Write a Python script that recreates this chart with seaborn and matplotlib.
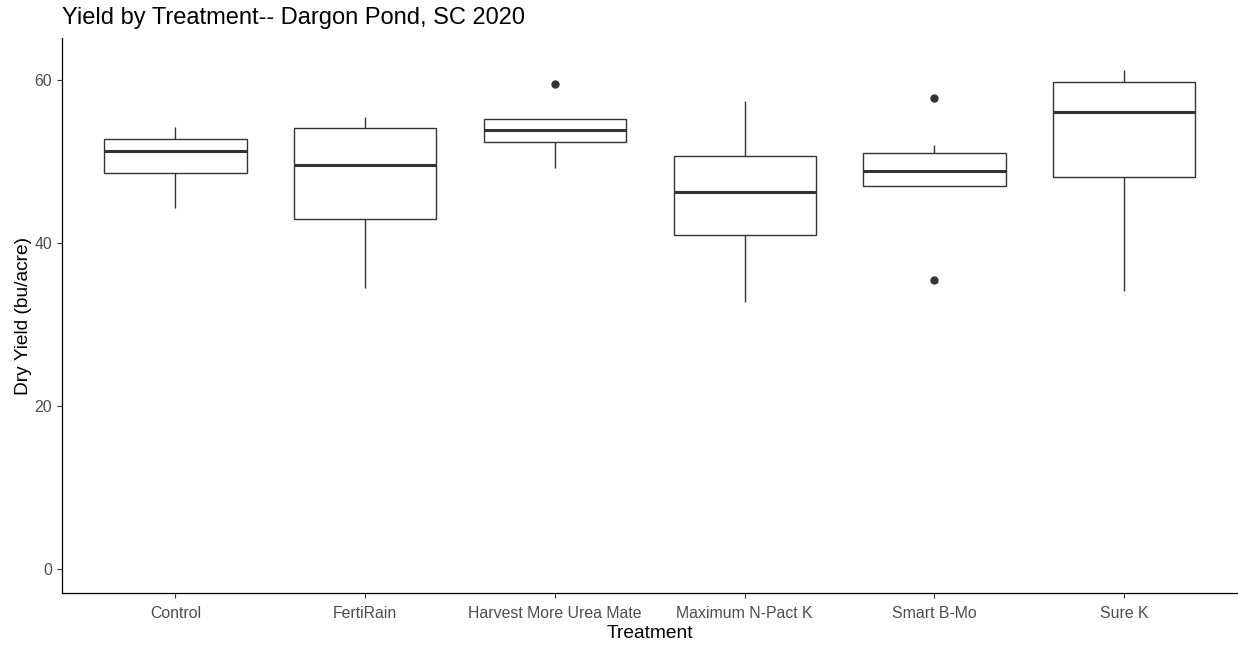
import matplotlib
matplotlib.use("Agg")
import matplotlib.pyplot as plt
import pandas as pd
import seaborn as sns

# dry yield (bu/acre) per treatment
treatments = ["Control", "FertiRain", "Harvest More Urea Mate",
              "Maximum N-Pact K", "Smart B-Mo", "Sure K"]
control = [44.34, 48.56, 51.29, 52.76, 54.27]
fertirain = [34.46, 42.96, 49.61, 54.08, 55.50]
harvest_more = [49.17, 52.43, 53.83, 55.18, 59.55]
max_npact = [32.74, 41.03, 46.23, 50.68, 57.46]
smart_bmo = [35.47, 46.96, 46.96, 48.84, 50.03, 51.99, 57.76]
sure_k = [34.16, 48.11, 56.11, 59.72, 61.23]

groups = [control, fertirain, harvest_more, max_npact, smart_bmo, sure_k]
df = pd.DataFrame({
    "Treatment": [t for t, g in zip(treatments, groups) for _ in g],
    "Yield": [v for g in groups for v in g],
})

sns.set_style("white")
plt.rcParams["font.family"] = ["Liberation Sans", "DejaVu Sans"]

fig = plt.figure(figsize=(12.38, 6.5), dpi=100)
ax = fig.add_axes([0.0498, 0.0872, 0.9502, 0.8543])

line_col = "#333333"
sns.boxplot(
    data=df, x="Treatment", y="Yield", order=treatments, ax=ax,
    color="white", linecolor=line_col, width=0.75, linewidth=1.0,
    showcaps=False,
    medianprops=dict(linewidth=2.2, color=line_col),
    flierprops=dict(marker="o", markerfacecolor=line_col,
                    markeredgecolor=line_col, markersize=5),
)

ax.set_xlim(-0.6, 5.6)
ax.set_ylim(-2.94, 65.15)
ax.set_yticks([0, 20, 40, 60])

for side in ["top", "right"]:
    ax.spines[side].set_visible(False)
for side in ["left", "bottom"]:
    ax.spines[side].set_color("black")
    ax.spines[side].set_linewidth(0.9)

ax.tick_params(axis="both", which="major", length=3.6, width=0.8,
               color=line_col, labelcolor="#4D4D4D", labelsize=11.4,
               left=True, bottom=True)
ax.tick_params(axis="y", pad=3.2)
ax.tick_params(axis="x", pad=5.2)

ax.set_xlabel("Treatment", fontsize=13.8, color="black", labelpad=3)
ax.set_ylabel("Dry Yield (bu/acre)", fontsize=13.8, color="black", labelpad=2)
ax.set_title("Yield by Treatment-- Dargon Pond, SC 2020", fontsize=17,
             loc="left", pad=10, color="black")
ax.title.set_position((-0.001, 1.0))

fig.savefig("out.png", dpi=100)
